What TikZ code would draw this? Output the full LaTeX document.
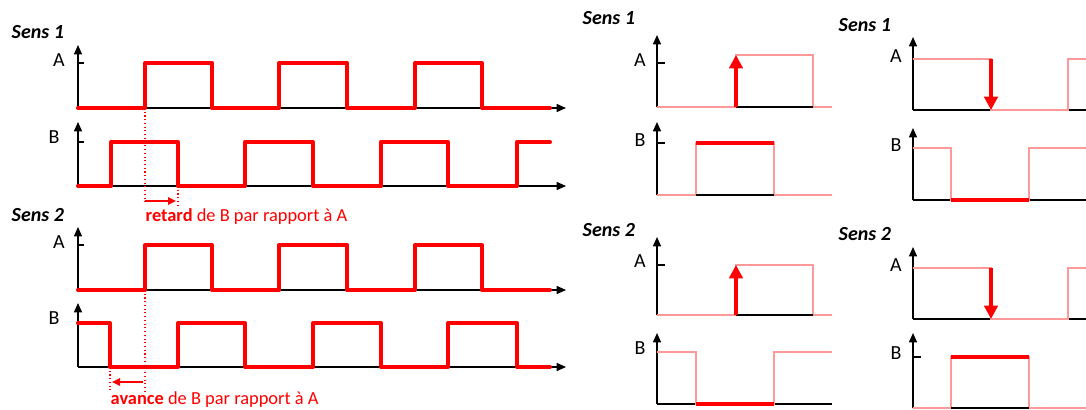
\documentclass[tikz,border=0pt]{standalone}
\usepackage{fontspec}
\setmainfont{Carlito}
\usetikzlibrary{arrows.meta}

\begin{document}
\begin{tikzpicture}[x=0.75pt,y=-0.75pt,
    axis/.style={black, line width=1.1pt, -{Triangle[length=7pt,width=6pt]}},
    baseline/.style={black, line width=1.1pt},
    tickmark/.style={black, line width=0.8pt},
    signal/.style={red, line width=3pt, line join=round, line cap=round},
    faded/.style={red!40, line width=1pt},
    edgearrow/.style={red, line width=3pt, -{Triangle[length=10pt,width=10pt]}},
    shiftarrow/.style={red, line width=1.2pt, -{Triangle[length=6pt,width=5.5pt]}},
    guide/.style={red, dotted, line width=0.8pt},
    title/.style={anchor=west, font=\bfseries\itshape\fontsize{15}{17}\selectfont},
    signame/.style={font=\fontsize{15}{17}\selectfont},
    note/.style={anchor=west, red, font=\fontsize{13.8}{16}\selectfont}]
    \useasboundingbox (0,0) rectangle (1086,410);

    % ---------- Left: full chronograms ----------
    % Sens 1
    \node[title] (ls1) at (7,32) {Sens 1};
    \draw[axis] (78,108) -- (78,45);
    \draw[axis] (78,108) -- (566,108);
    \draw[tickmark] (78,63) -- (84,63);
    \node[signame] (lA1) at (59,60) {A};
    \draw[signal] (78,108) -- (145,108) -- (145,63) -- (212,63) -- (212,108) -- (279,108) -- (279,63)
        -- (347,63) -- (347,108) -- (415,108) -- (415,63) -- (482,63) -- (482,108) -- (550,108);

    \draw[axis] (78,186) -- (78,122);
    \draw[axis] (78,186) -- (566,186);
    \draw[tickmark] (78,142) -- (84,142);
    \node[signame] (lB1) at (54,137) {B};
    \draw[signal] (78,186) -- (111,186) -- (111,142) -- (178,142) -- (178,186) -- (245,186) -- (245,142)
        -- (313,142) -- (313,186) -- (381,186) -- (381,142) -- (448,142) -- (448,186) -- (517,186)
        -- (517,142) -- (550,142);

    % retard
    \coordinate (r1) at (145,201);
    \coordinate (r2) at (178,201);
    \draw[guide] (145,108) -- (145,205);
    \draw[guide] (178,186) -- (178,205);
    \draw[shiftarrow] (r1) -- ([xshift=-1.5pt]r2);
    \node[note] (retard) at (141,217) {\textbf{retard} de B par rapport à A};

    % Sens 2
    \node[title] (ls2) at (7,215) {Sens 2};
    \draw[axis] (78,290) -- (78,227);
    \draw[axis] (78,290) -- (566,290);
    \draw[tickmark] (78,245) -- (84,245);
    \node[signame] (lA2) at (59,242) {A};
    \draw[signal] (78,290) -- (145,290) -- (145,245) -- (212,245) -- (212,290) -- (279,290) -- (279,245)
        -- (347,245) -- (347,290) -- (415,290) -- (415,245) -- (482,245) -- (482,290) -- (550,290);

    \draw[axis] (78,367) -- (78,303);
    \draw[axis] (78,367) -- (566,367);
    \draw[tickmark] (78,323) -- (84,323);
    \node[signame] (lB2) at (54,318) {B};
    \draw[signal] (78,323) -- (110,323) -- (110,367) -- (178,367) -- (178,323) -- (245,323) -- (245,367)
        -- (313,367) -- (313,323) -- (381,323) -- (381,367) -- (448,367) -- (448,323) -- (517,323)
        -- (517,367) -- (550,367);

    % avance
    \coordinate (a1) at (145,382);
    \coordinate (a2) at (110,382);
    \draw[guide] (110,367) -- (110,392);
    \draw[guide] (145,290) -- (145,392);
    \draw[shiftarrow] ([xshift=-1.5pt]a1) -- ([xshift=1.5pt]a2);
    \node[note] (avance) at (106,400) {\textbf{avance} de B par rapport à A};

    % ---------- Middle: rising edge of A ----------
    % Sens 1
    \node[title] (ms1) at (578,18) {Sens 1};
    \draw[axis] (657,107) -- (657,35);
    \draw[baseline] (657,107) -- (832,107);
    \draw[tickmark] (657,63) -- (665,63);
    \node[signame] (mA1) at (640,60) {A};
    \draw[faded] (657,107) -- (736,107) -- (736,55) -- (813,55) -- (813,107) -- (832,107);
    \draw[baseline] (736,107) -- (813,107);
    \draw[edgearrow] (736,107) -- (736,55);

    \draw[axis] (657,195) -- (657,122);
    \draw[baseline] (657,195) -- (832,195);
    \draw[tickmark] (657,143) -- (665,143);
    \node[signame] (mB1) at (640,140) {B};
    \draw[faded] (657,195) -- (696,195) -- (696,143) -- (774,143) -- (774,195) -- (832,195);
    \draw[baseline] (696,195) -- (774,195);
    \draw[signal, line cap=butt] (696,143) -- (774,143);

    % Sens 2
    \node[title] (ms2) at (578,230) {Sens 2};
    \draw[axis] (657,315) -- (657,237);
    \draw[baseline] (657,315) -- (832,315);
    \draw[tickmark] (657,265) -- (665,265);
    \node[signame] (mA2) at (640,261) {A};
    \draw[faded] (657,315) -- (736,315) -- (736,265) -- (813,265) -- (813,315) -- (832,315);
    \draw[baseline] (736,315) -- (813,315);
    \draw[edgearrow] (736,315) -- (736,265);

    \draw[axis] (657,404) -- (657,333);
    \draw[baseline] (657,404) -- (832,404);
    \draw[tickmark] (657,352) -- (665,352);
    \node[signame] (mB2) at (640,348) {B};
    \draw[faded] (657,352) -- (696,352) -- (696,404) -- (774,404) -- (774,352) -- (832,352);
    \draw[signal, line cap=butt] (696,404) -- (774,404);

    % ---------- Right: falling edge of A ----------
    % Sens 1
    \node[title] (rs1) at (834,25) {Sens 1};
    \draw[axis] (913,110) -- (913,37);
    \draw[baseline] (913,110) -- (1090,110);
    \draw[tickmark] (913,59) -- (921,59);
    \node[signame] (rA1) at (896,56) {A};
    \draw[faded] (913,59) -- (991,59) -- (991,110) -- (1068,110) -- (1068,59) -- (1090,59);
    \draw[edgearrow] (991,59) -- (991,110);

    \draw[axis] (913,200) -- (913,128);
    \draw[baseline] (913,200) -- (1090,200);
    \draw[tickmark] (913,148) -- (921,148);
    \node[signame] (rB1) at (896,145) {B};
    \draw[faded] (913,148) -- (951,148) -- (951,200) -- (1029,200) -- (1029,148) -- (1090,148);
    \draw[signal, line cap=butt] (951,200) -- (1029,200);

    % Sens 2
    \node[title] (rs2) at (834,234) {Sens 2};
    \draw[axis] (913,319) -- (913,247);
    \draw[baseline] (913,319) -- (1090,319);
    \draw[tickmark] (913,268) -- (921,268);
    \node[signame] (rA2) at (896,265) {A};
    \draw[faded] (913,268) -- (991,268) -- (991,319) -- (1068,319) -- (1068,268) -- (1090,268);
    \draw[edgearrow] (991,268) -- (991,319);

    \draw[axis] (913,408) -- (913,333);
    \draw[baseline] (913,408) -- (1090,408);
    \draw[tickmark] (913,357) -- (921,357);
    \node[signame] (rB2) at (896,353) {B};
    \draw[faded] (913,408) -- (951,408) -- (951,357) -- (1029,357) -- (1029,408) -- (1090,408);
    \draw[baseline] (951,408) -- (1029,408);
    \draw[signal, line cap=butt] (951,357) -- (1029,357);
\end{tikzpicture}
\end{document}
